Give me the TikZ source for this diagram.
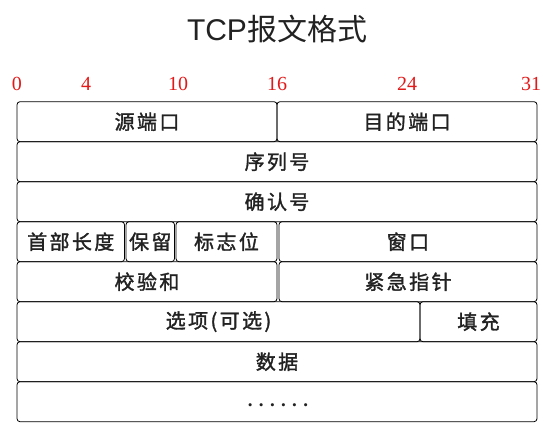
\documentclass[tikz,border=0pt]{standalone}
\usepackage{fontspec}
\setmainfont{Liberation Serif}
\newfontfamily\cjk{Noto Sans CJK SC}
\newfontfamily\cjklbl{Noto Sans CJK SC}[LetterSpace=12, FakeBold=1.6]
\newfontfamily\titlesans{Liberation Sans}
\definecolor{bitred}{RGB}{225,25,25}
\definecolor{ink}{RGB}{34,34,34}
\tikzset{
  field/.style={draw=black, rounded corners=3pt, line width=0.8pt, inner sep=0pt,
    minimum height=40pt, text=ink, font=\cjklbl\fontsize{20}{22}\selectfont},
  bitlabel/.style={text=bitred, inner sep=0pt, font=\fontsize{20}{22}\selectfont},
}
\newcommand\fieldbox[5]{% name, x1, x2, row, text
  \pgfmathsetmacro\fbx{(#2+#3)/2}%
  \pgfmathsetmacro\fbw{#3-#2}%
  \pgfmathsetmacro\fby{101.7+40*(#4-1)+20}%
  \node[field, minimum width=\fbw pt] (#1) at (\fbx,\fby) {#5};%
}
\begin{document}
\begin{tikzpicture}[x=1pt,y=-1pt]
\useasboundingbox (0,0) rectangle (555,423);
\node[text=ink, inner sep=0pt, font=\fontsize{30}{32}\selectfont] (title) at (277,29)
  {\titlesans TCP\cjk 报文格式};
\node[bitlabel] (b0)  at (17,84)  {0};
\node[bitlabel] (b4)  at (86,84)  {4};
\node[bitlabel] (b10) at (178,84) {10};
\node[bitlabel] (b16) at (277,84) {16};
\node[bitlabel] (b24) at (407,84) {24};
\node[bitlabel] (b31) at (531,84) {31};
\fieldbox{src}{17}{277}{1}{源端口}
\fieldbox{dst}{277}{537}{1}{目的端口}
\fieldbox{seq}{17}{537}{2}{序列号}
\fieldbox{ack}{17}{537}{3}{确认号}
\fieldbox{hlen}{17}{124.5}{4}{首部长度}
\fieldbox{rsv}{126}{174.5}{4}{保留}
\fieldbox{flags}{176}{277}{4}{标志位}
\fieldbox{win}{279}{537}{4}{窗口}
\fieldbox{chk}{17}{277}{5}{校验和}
\fieldbox{urg}{279}{537}{5}{紧急指针}
\fieldbox{opt}{17}{420}{6}{选项(可选)}
\fieldbox{pad}{420}{537}{6}{填充}
\fieldbox{data}{17}{537}{7}{数据}
\fieldbox{more}{17}{537}{8}{}
\node[text=ink, inner sep=0pt, font=\fontsize{19}{20}\selectfont\bfseries] (dots) at (278,405) {. . . . . .};
\end{tikzpicture}
\end{document}
